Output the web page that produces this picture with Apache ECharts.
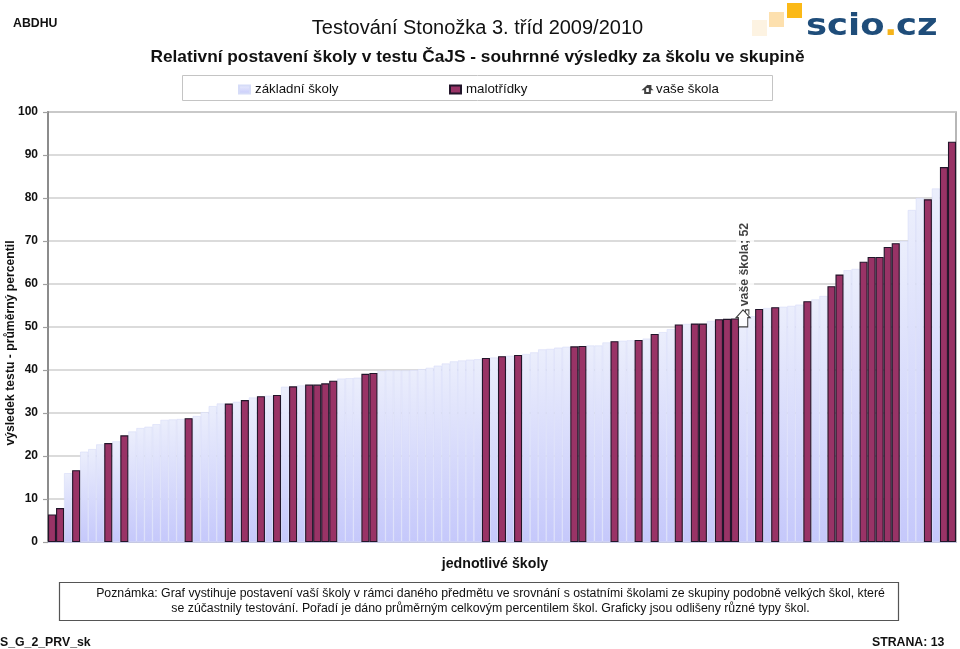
<!DOCTYPE html>
<html><head><meta charset="utf-8">
<script src="https://cdn.jsdelivr.net/npm/echarts@6/dist/echarts.min.js"></script>
<style>html,body{margin:0;padding:0;background:#fff}#c{width:960px;height:649px}</style></head>
<body><div id="c"></div>
<script>
const _ = null;
const basicSchools = [_,_,16,_,21,21.6,22.7,_,23.4,_,25.7,26.5,26.8,27.4,28.4,28.5,28.6,_,29.3,30.2,31.6,32.2,_,32.6,_,33.6,_,34,_,36.1,_,36.4,_,_,_,_,38,38.1,38.2,_,_,39.8,39.9,39.9,39.9,40,40.2,40.5,41,41.5,42,42.2,42.4,42.5,_,42.9,_,43.3,_,43.7,44.1,44.8,44.9,45.2,45.4,_,_,45.7,45.7,46.4,_,46.8,46.9,_,47.3,_,48.8,49.5,_,50.7,_,_,51.4,_,_,_,52,52.5,_,54.4,_,54.7,54.9,55.2,_,56.4,57.2,_,_,63.2,63.5,_,_,_,_,_,70,77.2,80,_,82.2,_,_];
const smallSchools = [6.4,7.9,_,16.7,_,_,_,23,_,24.8,_,_,_,_,_,_,_,28.8,_,_,_,_,32.2,_,33,_,33.9,_,34.2,_,36.2,_,36.6,36.6,36.9,37.5,_,_,_,39.1,39.3,_,_,_,_,_,_,_,_,_,_,_,_,_,42.8,_,43.2,_,43.5,_,_,_,_,_,_,45.5,45.6,_,_,_,46.7,_,_,47,_,48.4,_,_,50.6,_,50.8,50.8,_,51.8,51.9,52,_,_,54.2,_,54.6,_,_,_,56,_,_,59.5,62.2,_,_,65.2,66.3,66.3,68.6,69.5,_,_,_,79.7,_,87.2,93.1];
const categories = basicSchools.map((v, i) => String(i + 1));
const yourSchoolIndex = 86;
const yourSchoolValue = 52;
const yTicks = {min: 0, max: 100, interval: 10};
const houseIcon = 'path://M12 0 L24 11 L20 11 L20 24 L4 24 L4 11 L0 11 Z M16 3 L16 0 L22 0 L22 7';
const F = '"Liberation Sans", Arial, sans-serif';
const chart = echarts.init(document.getElementById('c'), null, {renderer: 'canvas'});
const lightFill = new echarts.graphic.LinearGradient(0, 0, 0, 1, [
  {offset: 0, color: '#ebeefc'}, {offset: 1, color: '#c5c8fb'}]);
function legend(name, left, icon, w, h) {
  return {data: [{name, icon}], left, top: 83, itemWidth: w, itemHeight: h, itemGap: 2, padding: 0,
    textStyle: {fontFamily: F, fontSize: 13.3, color: '#111'}, selectedMode: false};
}
function t(text, x, y, font, extra) {
  return {type: 'text', x, y, z: 10, style: Object.assign({text, font, fill: '#111', textVerticalAlign: 'middle'}, extra || {})};
}
const BOLD12 = 'bold 12.3px ' + F;
chart.setOption({
  animation: false,
  backgroundColor: '#fff',
  grid: {left: 48, right: 4, top: 112, bottom: 107, containLabel: false, outerBoundsMode: 'none', show: true, borderColor: '#a0a0a0', borderWidth: 1.5, backgroundColor: 'transparent'},
  legend: [
    legend('základní školy', 238, 'rect', 11, 8),
    legend('malotřídky', 449, 'rect', 11, 8),
    legend('vaše škola', 643, houseIcon, 7, 9)
  ],
  xAxis: {type: 'category', data: categories, boundaryGap: true,
    axisTick: {show: false}, axisLabel: {show: false},
    axisLine: {lineStyle: {color: '#c4c6e8', width: 1.5}},
    name: 'jednotlivé školy', nameLocation: 'middle', nameGap: 15, nameMoveOverlap: false,
    nameTextStyle: {fontFamily: F, fontSize: 14.2, fontWeight: 'bold', color: '#111', padding: [0, 14, 0, 0]}},
  yAxis: {type: 'value', min: yTicks.min, max: yTicks.max, interval: yTicks.interval,
    axisLine: {show: true, lineStyle: {color: '#8c8c8c', width: 2}},
    axisTick: {show: true, length: 5, lineStyle: {color: '#a0a0a0', width: 1.2}},
    axisLabel: {fontFamily: F, fontSize: 12, fontWeight: 'bold', color: '#111', margin: 10},
    splitLine: {lineStyle: {color: '#cfcfcf', width: 1.5}},
    name: 'výsledek testu - průměrný percentil', nameLocation: 'middle', nameGap: 31, nameMoveOverlap: false,
    nameTextStyle: {fontFamily: F, fontSize: 12.2, fontWeight: 'bold', color: '#111', padding: [0, 32, 0, 0]}},
  series: [
    {name: 'základní školy', type: 'bar', data: basicSchools, barCategoryGap: 0, barGap: '-100%',
      itemStyle: {color: lightFill, borderColor: '#d6dcf8', borderWidth: 0.6}, z: 2},
    {name: 'malotřídky', type: 'bar', data: smallSchools,
      itemStyle: {color: '#993366', borderColor: '#22152a', borderWidth: 1.1}, z: 3},
    {name: 'vaše škola', type: 'scatter', data: [[yourSchoolIndex, yourSchoolValue]],
      symbol: houseIcon, symbolSize: [14, 17], z: 5,
      itemStyle: {color: '#fff', borderColor: '#111', borderWidth: 1.1},
      label: {show: true, position: 'top', distance: 3, rotate: 90, align: 'left', verticalAlign: 'middle', offset: [0, 2],
        formatter: 'vaše škola; ' + yourSchoolValue, fontFamily: F, fontSize: 12.3, fontWeight: 'bold', color: '#111',
        backgroundColor: '#fff', padding: [3, 3, 3, 0]}}
  ],
  graphic: [
    {type: 'rect', z: 0, shape: {x: 182.5, y: 75.5, width: 590, height: 25}, style: {fill: '#fff', stroke: '#c4c4c4', lineWidth: 1}},
    {type: 'rect', z: 0, shape: {x: 59.5, y: 582.5, width: 839, height: 38}, style: {fill: '#fff', stroke: '#555', lineWidth: 1.2}},
    t('ABDHU', 13, 24, BOLD12),
    t('Testování Stonožka 3. tříd 2009/2010', 477.5, 28, '20px ' + F, {textAlign: 'center'}),
    t('Relativní postavení školy v testu ČaJS - souhrnné výsledky za školu ve skupině', 477.5, 57, 'bold 17.3px ' + F, {textAlign: 'center'}),
    t('Poznámka: Graf vystihuje postavení vaší školy v rámci daného předmětu ve srovnání s ostatními školami ze skupiny podobně velkých škol, které', 490.5, 594, '12.3px ' + F, {textAlign: 'center'}),
    t('se zúčastnily testování. Pořadí je dáno průměrným celkovým percentilem škol. Graficky jsou odlišeny různé typy škol.', 490.5, 609, '12.3px ' + F, {textAlign: 'center'}),
    t('S_G_2_PRV_sk', 0, 643, BOLD12),
    t('STRANA: 13', 872, 643, BOLD12),
    {type: 'rect', z: 10, shape: {x: 752, y: 20, width: 15, height: 16}, style: {fill: '#fdf3e2'}},
    {type: 'rect', z: 10, shape: {x: 769, y: 12, width: 15, height: 15}, style: {fill: '#fde0ae'}},
    {type: 'rect', z: 10, shape: {x: 787, y: 3, width: 15, height: 15}, style: {fill: '#fbb917'}},
    {type: 'text', z: 10, x: 806, y: 27, scaleX: 1.18, style: {text: 'scio', font: 'bold 30px "DejaVu Sans"', fill: '#1f4d7a', textVerticalAlign: 'middle'}},
    {type: 'text', z: 10, x: 884, y: 27, scaleX: 1.18, style: {text: '.', font: 'bold 30px "DejaVu Sans"', fill: '#f5b31a', textVerticalAlign: 'middle'}},
    {type: 'text', z: 10, x: 896, y: 27, scaleX: 1.18, style: {text: 'cz', font: 'bold 30px "DejaVu Sans"', fill: '#1f4d7a', textVerticalAlign: 'middle'}}
  ]
});
</script></body></html>
